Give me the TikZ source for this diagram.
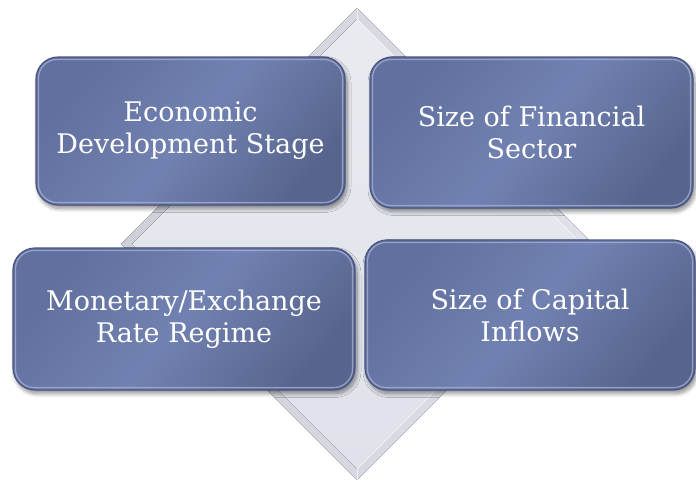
\documentclass[tikz,border=0pt]{standalone}
\usepackage{fontspec}
\setmainfont{DejaVu Serif}
\usetikzlibrary{shadows.blur}

\definecolor{panelA}{HTML}{61709E}
\definecolor{panelB}{HTML}{7181B1}
\definecolor{panelEdge}{HTML}{4A5580}
\definecolor{panelGlint}{HTML}{A7B2D6}
\definecolor{gemOut}{HTML}{CDD0D8}
\definecolor{gemIn}{HTML}{DFE2EA}
\definecolor{gemHi}{HTML}{F0F2F6}

\tikzset{
  panel/.style={
    rectangle, rounded corners=22pt, draw=panelEdge, line width=1.2pt,
    left color=panelA, right color=panelA!90!black, middle color=panelB, shading angle=50,
    blur shadow={shadow xshift=2pt, shadow yshift=-3.5pt, shadow blur steps=8,
      shadow blur radius=4pt, shadow opacity=45},
    text=white, align=center, inner sep=0pt,
    font=\fontsize{27}{32}\selectfont
  },
  glint/.style={draw=panelGlint, line width=1.3pt, rounded corners=19pt, opacity=0.75}
}

\begin{document}
\begin{tikzpicture}[x=1pt,y=-1pt]
  \useasboundingbox (0,0) rectangle (696,482);

  % bevelled diamond behind the panels
  \coordinate (dt) at (357,8);
  \coordinate (dr) at (593,244);
  \coordinate (db) at (357,480);
  \coordinate (dl) at (121,244);
  \fill[left color=gemOut, right color=gemIn] (dt) -- (dr) -- (db) -- (dl) -- cycle;
  \fill[top color=gemIn!70!white, bottom color=gemIn] (357,19) -- (582,244) -- (357,469) -- (132,244) -- cycle;
  \draw[gemHi, line width=1pt] (357,19) -- (582,244) -- (357,469);
  \draw[white, line width=0.6pt, opacity=0.6] (dt) -- (357,19) (357,469) -- (db);

  % the four panels
  \node[panel, minimum width=309pt, minimum height=148pt] (econ) at (190.5,131)
    {Economic\\Development Stage};
  \node[panel, minimum width=323pt, minimum height=151pt] (fin) at (531.5,132.5)
    {Size of Financial\\Sector};
  \node[panel, minimum width=342pt, minimum height=142pt] (mon) at (184,319)
    {Monetary/Exchange\\Rate Regime};
  \node[panel, minimum width=330pt, minimum height=150pt] (cap) at (530,315)
    {Size of Capital\\Inflows};

  % inner highlight rims
  \foreach \p in {econ,fin,mon,cap}{
    \draw[glint] ([shift={(3pt,-3pt)}]\p.north west) rectangle ([shift={(-3pt,3pt)}]\p.south east);
  }
\end{tikzpicture}
\end{document}
